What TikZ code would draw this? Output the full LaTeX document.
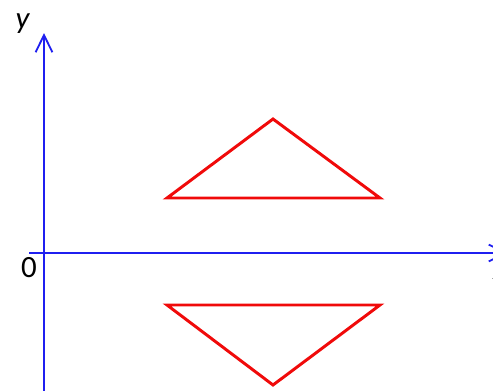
\documentclass[tikz,border=0pt]{standalone}
\usepackage{fontspec}
\setmainfont{Carlito}
\usepackage{xcolor}
\definecolor{axblue}{HTML}{1F1FF0}
\definecolor{trired}{HTML}{F00A0A}
\usetikzlibrary{arrows.meta}
\tikzset{
  axline/.style ={draw=axblue, line width=1.3pt,
                  -{Straight Barb[length=0.43cm,width=0.42cm,line width=1.3pt]}},
  triline/.style={draw=trired, line width=2.1pt, line join=miter},
  axlbl/.style  ={font=\fontsize{22}{26}\selectfont, text=black, inner sep=0pt},
}
\begin{document}
\begin{tikzpicture}[x=0.025cm,y=-0.025cm]
  \useasboundingbox (0,0) rectangle (493,390);
  \clip (0,0) rectangle (493,390);
  % axes
  \coordinate (xs) at (29,253);
  \coordinate (xe) at (508,253);
  \coordinate (ys) at (44,392);
  \coordinate (ye) at (44,33);
  \draw[axline] (xs) -- (xe);
  \draw[axline] (ys) -- (ye);
  \node[axlbl] (ylab) at (23,24) {\textit{y}};
  \node[axlbl] (olab) at (29,268) {0};
  \node[axlbl] (xlab) at (500,272) {\textit{x}};
  % triangles
  \coordinate (a1) at (167,198);
  \coordinate (b1) at (380,198);
  \coordinate (c1) at (273,119);
  \coordinate (a2) at (167,305);
  \coordinate (b2) at (380,305);
  \coordinate (c2) at (273,385);
  \draw[triline] (a1) -- (b1) -- (c1) -- cycle;
  \draw[triline] (a2) -- (b2) -- (c2) -- cycle;
\end{tikzpicture}
\end{document}
